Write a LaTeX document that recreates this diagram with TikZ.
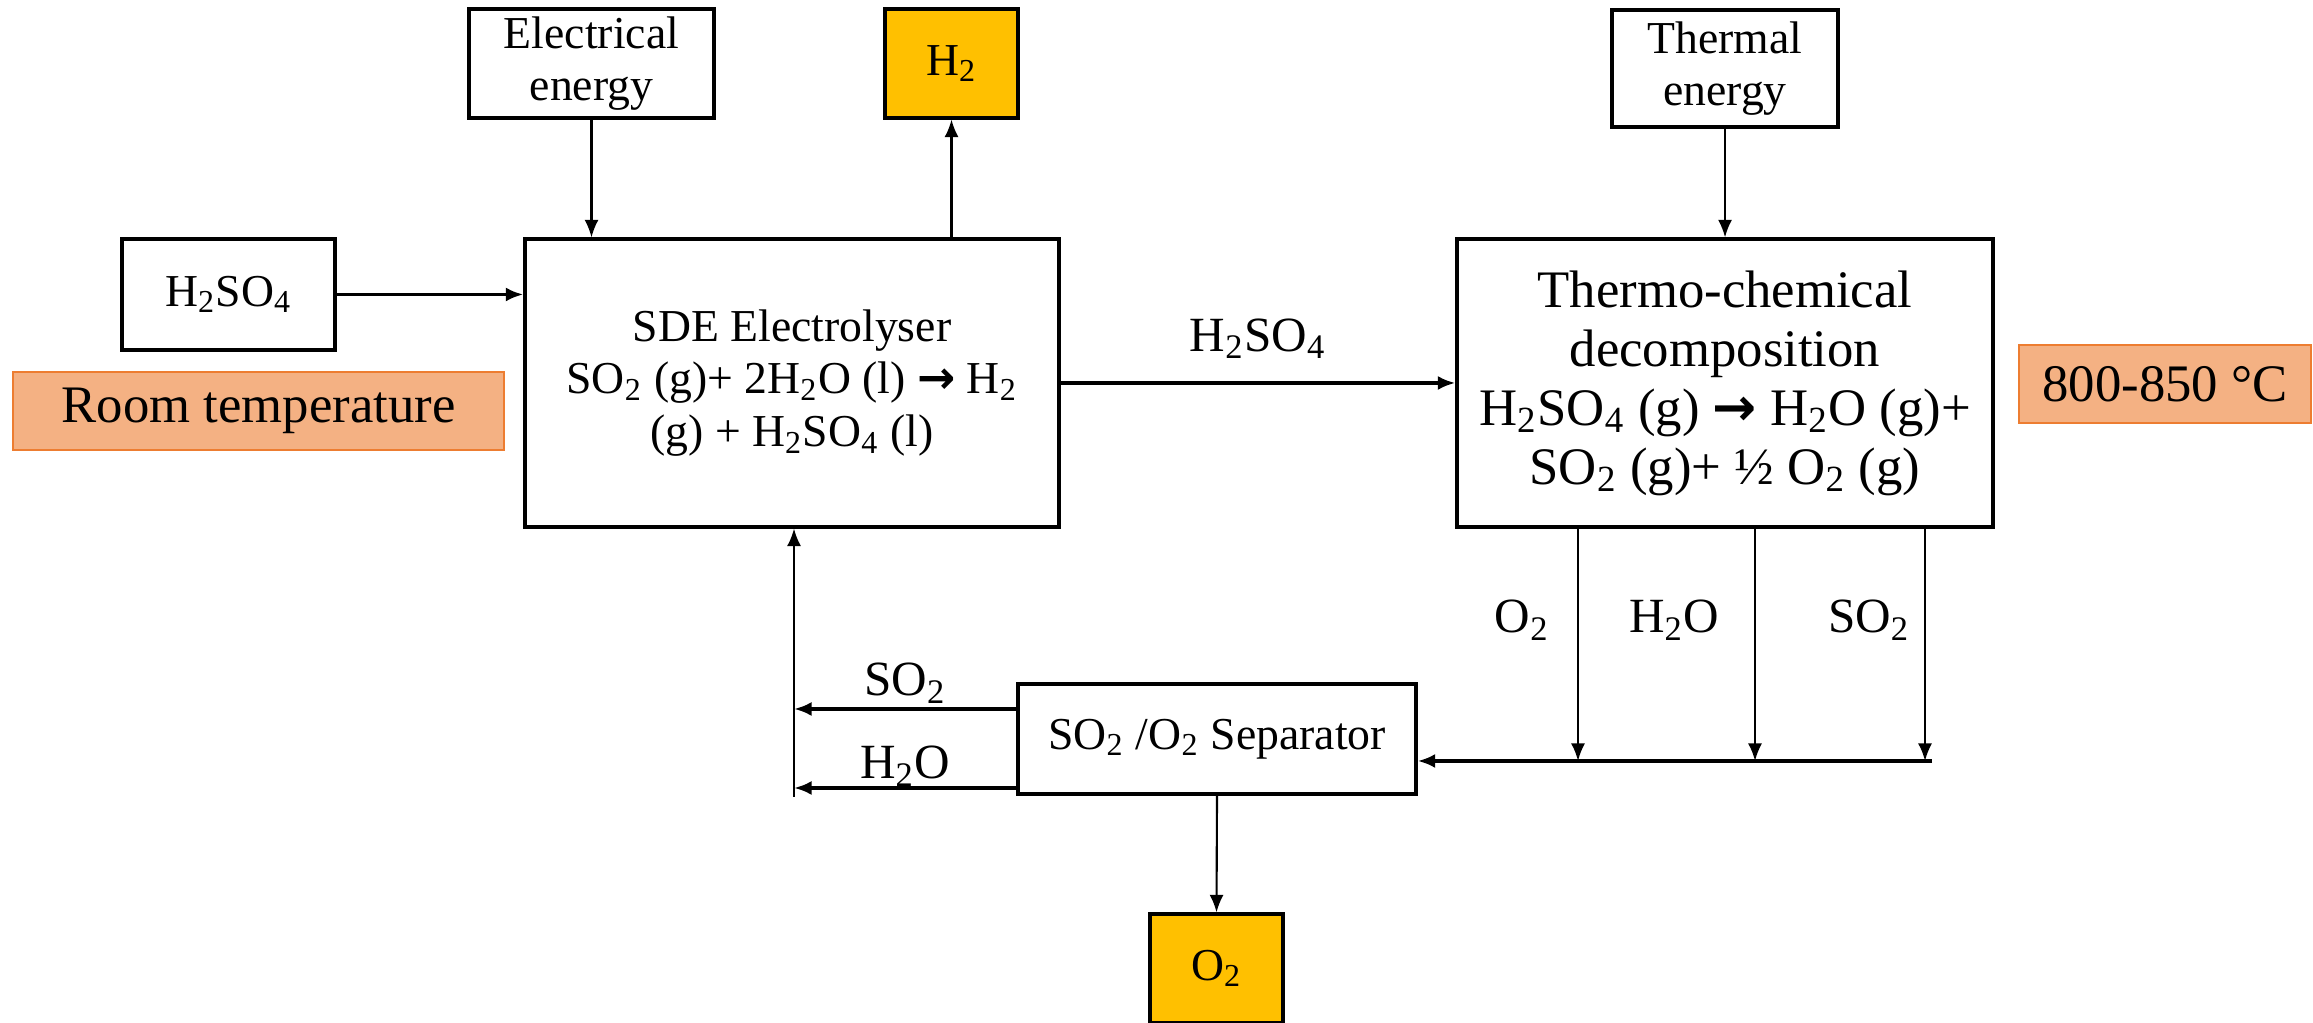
\documentclass[tikz,border=0pt]{standalone}
\usepackage{fontspec}
\setmainfont{Liberation Serif}
\newfontfamily\arrowfont{DejaVu Sans}
\usetikzlibrary{arrows.meta}

\definecolor{gold}{HTML}{FFC000}
\definecolor{tempfill}{HTML}{F4B183}
\definecolor{tempedge}{HTML}{ED7D31}

\newcommand{\ssub}[1]{\textsubscript{#1}}
\newcommand{\rarr}{{\arrowfont\bfseries →}}

\tikzset{
  blk/.style={draw, line width=0.9pt, align=center, inner sep=2pt,
    font=\fontsize{13}{15}\selectfont},
  prod/.style={blk, fill=gold},
  temp/.style={draw=tempedge, fill=tempfill, line width=0.8pt,
    font=\fontsize{15}{18}\selectfont},
  flow/.style={-{Latex[length=5pt,width=4pt]}, line width=0.6pt},
  bigflow/.style={flow, line width=1.1pt},
  lbl/.style={font=\fontsize{14}{16}\selectfont}
}

\begin{document}
\begin{tikzpicture}
    \useasboundingbox (0,0) rectangle (23.13,10.23);

    % electrolyser side
    \node[blk, minimum width=2.45cm, minimum height=1.09cm] (elec) at (5.915,9.595) {Electrical\\energy};
    \node[prod, minimum width=1.33cm, minimum height=1.09cm] (hyd) at (9.515,9.595) {H\ssub{2}};
    \node[blk, minimum width=2.13cm, minimum height=1.11cm] (acid) at (2.285,7.285) {H\ssub{2}SO\ssub{4}};
    \node[temp, minimum width=4.91cm, minimum height=0.78cm] (room) at (2.585,6.12) {Room temperature};
    \node[blk, minimum width=5.34cm, minimum height=2.88cm] (sde) at (7.92,6.40)
      {SDE Electrolyser\\SO\ssub{2} (g)+ 2H\ssub{2}O (l) \rarr{} H\ssub{2}\\(g) + H\ssub{2}SO\ssub{4} (l)};

    % decomposition side
    \node[blk, minimum width=2.26cm, minimum height=1.17cm] (heat) at (17.25,9.545) {Thermal\\energy};
    \node[blk, font=\fontsize{15}{16.8}\selectfont, minimum width=5.36cm, minimum height=2.88cm] (thermo) at (17.25,6.40)
      {Thermo-chemical\\decomposition\\H\ssub{2}SO\ssub{4} (g) \rarr{} H\ssub{2}O (g)+\\SO\ssub{2} (g)+ ½ O\ssub{2} (g)};
    \node[temp, minimum width=2.92cm, minimum height=0.78cm] (hot) at (21.65,6.39) {800-850 °C};

    % separation
    \node[blk, minimum width=3.98cm, minimum height=1.10cm] (sep) at (12.17,2.84) {SO\ssub{2} /O\ssub{2} Separator};
    \node[prod, minimum width=1.33cm, minimum height=1.09cm] (oxy) at (12.165,0.545) {O\ssub{2}};

    \coordinate (jO) at (15.78,2.62);
    \coordinate (jW) at (17.55,2.62);
    \coordinate (jS) at (19.25,2.62);
    \coordinate (jend) at (19.32,2.62);
    \coordinate (ret) at (7.94,2.26);

    % flows
    \draw[flow] (elec.south) -- (elec.south |- sde.north);
    \draw[flow] (sde.north -| hyd.south) -- (hyd.south);
    \draw[bigflow] (acid.east) -- (acid.east -| sde.west);
    \draw[bigflow] (sde.east) -- (thermo.west)
      node[lbl, midway, above=3pt] {H\ssub{2}SO\ssub{4}};
    \draw[flow] (heat.south) -- (thermo.north);
    \foreach \j in {jO,jW,jS} {
        \draw[flow] (thermo.south -| \j) -- (\j);
      }
    \node[lbl] (lO) at (15.22,4.03) {O\ssub{2}};
    \node[lbl] (lW) at (16.74,4.03) {H\ssub{2}O};
    \node[lbl] (lS) at (18.69,4.03) {SO\ssub{2}};
    \draw[bigflow] (jend) -- (jend -| sep.east);
    \draw[bigflow] ([yshift=3mm]sep.west) -- ([yshift=3mm]sep.west -| ret)
      node[lbl, midway, above, inner sep=1pt] {SO\ssub{2}};
    \draw[bigflow] ([yshift=-4.9mm]sep.west) -- ([yshift=-4.9mm]sep.west -| ret)
      node[lbl, midway, above, inner sep=0pt] {H\ssub{2}O};
    \draw[flow] (ret) -- (ret |- sde.south);
    \draw[flow] (sep.south) -- (oxy.north);
  \end{tikzpicture}
\end{document}
